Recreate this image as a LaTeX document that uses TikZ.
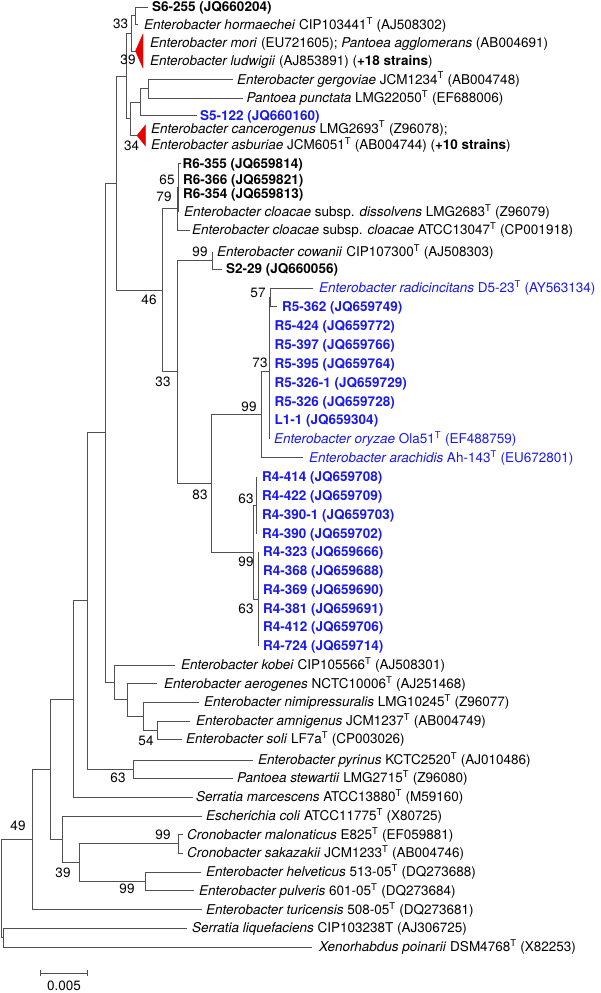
\documentclass[tikz,border=0pt]{standalone}
\usepackage{fontspec}
\setmainfont{TeX Gyre Heros}
\definecolor{myblue}{RGB}{25,25,235}
\definecolor{brc}{RGB}{80,80,80}
\definecolor{trired}{RGB}{230,0,0}
\newcommand{\fsz}{\fontsize{13.5pt}{15pt}\selectfont}
\newcommand{\Ts}{\textsuperscript{T}}
\newcommand{\tleaf}[7]{%
  \coordinate (e#1) at (#3,#4);
  \node[lab,#6] (t#1) at (#5,#4) {#7};
  \draw[br] (#2) |- (e#1);
}
\tikzset{
  br/.style={draw=brc, line width=0.9pt},
  lab/.style={anchor=west, inner sep=0pt, text height=9.6pt, text depth=0pt, font=\fsz},
  bl/.style={text=myblue},
  bk/.style={text=black},
  bs/.style={inner sep=0pt, font=\fsz},
  tri/.style={fill=trired, draw=trired, line width=0.4pt},
}
\begin{document}
\begin{tikzpicture}[x=1pt,y=-1pt]
\useasboundingbox (0,0) rectangle (600,993);
% internal nodes
\coordinate (root) at (1.5,888.4);
\coordinate (r2) at (3.5,937.5);
\coordinate (n49) at (32,839.25);
\coordinate (n50) at (50,769);
\coordinate (n73) at (73,699);
\coordinate (n87) at (87,600.9);
\coordinate (n105) at (105,432.8);
\coordinate (n116) at (116,183.2);
\coordinate (n126) at (126.7,76.1);
\coordinate (n131) at (131.7,33.4);
\coordinate (n33) at (135.7,15.75);
\coordinate (a39) at (135.5,51);
\coordinate (a39t) at (143,34);
\coordinate (a39b) at (143,68);
\coordinate (n130) at (130,118.8);
\coordinate (ngp) at (140,102.2);
\coordinate (ngerg) at (148,88.6);
\coordinate (a34) at (137,135.5);
\coordinate (a34t) at (145.5,125);
\coordinate (a34b) at (145.5,146);
\coordinate (n162) at (162,290.3);
\coordinate (n177a) at (177,208.8);
\coordinate (n65) at (178.5,187.15);
\coordinate (n177b) at (177,371.8);
\coordinate (n212) at (212.5,260.2);
\coordinate (n211) at (211,483.3);
\coordinate (n261) at (261,414.6);
\coordinate (n269) at (269,371.7);
\coordinate (n271) at (270.5,297.3);
\coordinate (n253) at (253,552.2);
\coordinate (n256) at (256.5,505.4);
\coordinate (n258) at (258,599);
\coordinate (n114) at (114,682.4);
\coordinate (n127) at (127,699.75);
\coordinate (n143) at (143,716);
\coordinate (n157) at (157,730);
\coordinate (n133) at (133,769);
\coordinate (nec) at (62,839.25);
\coordinate (n79) at (79,862.5);
\coordinate (ncr) at (178,843.75);
\coordinate (nhv) at (145,881.25);

% internal connectors
\draw[br] (root) |- (n49);
\draw[br] (root) |- (r2);
\draw[br] (n49) |- (n50);
\draw[br] (n50) |- (n73);
\draw[br] (n50) |- (nec);
\draw[br] (n73) |- (n87);
\draw[br] (n87) |- (n105);
\draw[br] (n87) |- (n133);
\draw[br] (n105) |- (n116);
\draw[br] (n105) |- (n114);
\draw[br] (n116) |- (n126);
\draw[br] (n116) |- (n162);
\draw[br] (n126) |- (n131);
\draw[br] (n126) |- (n130);
\draw[br] (n131) |- (n33);
\draw[br] (n131) |- (a39);
\draw[br] (n130) |- (ngp);
\draw[br] (n130) |- (a34);
\draw[br] (ngp) |- (ngerg);
\draw[br] (n162) |- (n177a);
\draw[br] (n162) |- (n177b);
\draw[br] (n177a) |- (n65);
\draw[br] (n177b) |- (n212);
\draw[br] (n177b) |- (n211);
\draw[br] (n211) |- (n261);
\draw[br] (n211) |- (n253);
\draw[br] (n261) |- (n269);
\draw[br] (n269) |- (n271);
\draw[br] (n253) |- (n256);
\draw[br] (n253) |- (n258);
\draw[br] (n114) |- (n127);
\draw[br] (n127) |- (n143);
\draw[br] (n143) |- (n157);
\draw[br] (nec) |- (n79);
\draw[br] (n79) |- (ncr);
\draw[br] (n79) |- (nhv);

% collapsed clades
\draw[tri] (a39) -- (a39t) -- (a39b) -- cycle;
\draw[tri] (a34) -- (a34t) -- (a34b) -- cycle;

% leaves
\tleaf{1}{n33}{148}{7}{152}{bk}{\textbf{S6-255 (JQ660204)}}
\tleaf{2}{n33}{138}{24.5}{144}{bk}{\textit{Enterobacter hormaechei} CIP103441\Ts{} (AJ508302)}
\node[lab] (t3) at (150,42.7) {\textit{Enterobacter mori} (EU721605); \textit{Pantoea agglomerans} (AB004691)};
\node[lab] (t4) at (150,61) {\textit{Enterobacter ludwigii} (AJ853891) (\textbf{+18 strains})};
\tleaf{5}{ngerg}{233}{79.3}{237}{bk}{\textit{Enterobacter gergoviae} JCM1234\Ts{} (AB004748)}
\tleaf{6}{ngerg}{243}{98}{246.5}{bk}{\textit{Pantoea punctata} LMG22050\Ts{} (EF688006)}
\tleaf{7}{ngp}{197}{115.2}{200}{bl}{\textbf{S5-122 (JQ660160)}}
\node[lab] (t8) at (151,128.3) {\textit{Enterobacter cancerogenus} LMG2693\Ts{} (Z96078);};
\node[lab] (t9) at (151,145) {\textit{Enterobacter asburiae} JCM6051\Ts{} (AB004744) (\textbf{+10 strains})};
\tleaf{10}{n65}{181}{163.3}{182.5}{bk}{\textbf{R6-355 (JQ659814)}}
\tleaf{11}{n65}{178.5}{179.3}{183}{bk}{\textbf{R6-366 (JQ659821)}}
\tleaf{12}{n65}{178.5}{194}{183}{bk}{\textbf{R6-354 (JQ659813)}}
\tleaf{13}{n65}{178.5}{212}{184}{bk}{\textit{Enterobacter cloacae} subsp. \textit{dissolvens} LMG2683\Ts{} (Z96079)}
\tleaf{14}{n177a}{190}{230}{192}{bk}{\textit{Enterobacter cloacae} subsp. \textit{cloacae} ATCC13047\Ts{} (CP001918)}
\tleaf{15}{n212}{212.5}{251.5}{217}{bk}{\textit{Enterobacter cowanii} CIP107300\Ts{} (AJ508303)}
\tleaf{16}{n212}{222}{269}{226}{bk}{\textbf{S2-29 (JQ660056)}}
\tleaf{17}{n271}{313}{288}{319}{bl}{\textit{Enterobacter radicincitans} D5-23\Ts{} (AY563134)}
\tleaf{18}{n271}{277}{306.7}{282}{bl}{\textbf{R5-362 (JQ659749)}}
\tleaf{19}{n269}{269}{325.5}{274.5}{bl}{\textbf{R5-424 (JQ659772)}}
\tleaf{20}{n269}{269}{344.5}{274.5}{bl}{\textbf{R5-397 (JQ659766)}}
\tleaf{21}{n269}{269}{363.3}{274.5}{bl}{\textbf{R5-395 (JQ659764)}}
\tleaf{22}{n269}{269}{382.5}{274.5}{bl}{\textbf{R5-326-1 (JQ659729)}}
\tleaf{23}{n269}{269}{401.5}{274.5}{bl}{\textbf{R5-326 (JQ659728)}}
\tleaf{24}{n269}{269}{420}{274.5}{bl}{\textbf{L1-1 (JQ659304)}}
\tleaf{25}{n269}{269}{439}{274}{bl}{\textit{Enterobacter oryzae} Ola51\Ts{} (EF488759)}
\tleaf{26}{n261}{303}{457.5}{309}{bl}{\textit{Enterobacter arachidis} Ah-143\Ts{} (EU672801)}
\tleaf{27}{n256}{256.5}{477}{262}{bl}{\textbf{R4-414 (JQ659708)}}
\tleaf{28}{n256}{256.5}{496}{262}{bl}{\textbf{R4-422 (JQ659709)}}
\tleaf{29}{n256}{256.5}{515}{262}{bl}{\textbf{R4-390-1 (JQ659703)}}
\tleaf{30}{n256}{256.5}{533.5}{262}{bl}{\textbf{R4-390 (JQ659702)}}
\tleaf{31}{n258}{258}{552}{263}{bl}{\textbf{R4-323 (JQ659666)}}
\tleaf{32}{n258}{258}{571}{263}{bl}{\textbf{R4-368 (JQ659688)}}
\tleaf{33}{n258}{258}{589.5}{263}{bl}{\textbf{R4-369 (JQ659690)}}
\tleaf{34}{n258}{258}{608.5}{263}{bl}{\textbf{R4-381 (JQ659691)}}
\tleaf{35}{n258}{258}{627}{263}{bl}{\textbf{R4-412 (JQ659706)}}
\tleaf{36}{n258}{258}{646}{263}{bl}{\textbf{R4-724 (JQ659714)}}
\tleaf{37}{n114}{175}{665}{181}{bk}{\textit{Enterobacter kobei} CIP105566\Ts{} (AJ508301)}
\tleaf{38}{n127}{157}{683.5}{164}{bk}{\textit{Enterobacter aerogenes} NCTC10006\Ts{} (AJ251468)}
\tleaf{39}{n143}{199}{702}{204}{bk}{\textit{Enterobacter nimipressuralis} LMG10245\Ts{} (Z96077)}
\tleaf{40}{n157}{190}{721}{196}{bk}{\textit{Enterobacter amnigenus} JCM1237\Ts{} (AB004749)}
\tleaf{41}{n157}{182}{739}{186}{bk}{\textit{Enterobacter soli} LF7a\Ts{} (CP003026)}
\tleaf{42}{n133}{253}{760}{258}{bk}{\textit{Enterobacter pyrinus} KCTC2520\Ts{} (AJ010486)}
\tleaf{43}{n133}{233}{778}{237}{bk}{\textit{Pantoea stewartii} LMG2715\Ts{} (Z96080)}
\tleaf{44}{n73}{193}{797}{196}{bk}{\textit{Serratia marcescens} ATCC13880\Ts{} (M59160)}
\tleaf{45}{nec}{202}{816}{206}{bk}{\textit{Escherichia coli} ATCC11775\Ts{} (X80725)}
\tleaf{46}{ncr}{183}{834.5}{187}{bk}{\textit{Cronobacter malonaticus} E825\Ts{} (EF059881)}
\tleaf{47}{ncr}{183}{853}{187}{bk}{\textit{Cronobacter sakazakii} JCM1233\Ts{} (AB004746)}
\tleaf{48}{nhv}{201}{872}{206}{bk}{\textit{Enterobacter helveticus} 513-05\Ts{} (DQ273688)}
\tleaf{49}{nhv}{194}{890.5}{199}{bk}{\textit{Enterobacter pulveris} 601-05\Ts{} (DQ273684)}
\tleaf{50}{n49}{202}{909.5}{206}{bk}{\textit{Enterobacter turicensis} 508-05\Ts{} (DQ273681)}
\tleaf{51}{r2}{187}{928}{192}{bk}{\textit{Serratia liquefaciens} CIP103238T (AJ306725)}
\tleaf{52}{r2}{312}{947}{319}{bk}{\textit{Xenorhabdus poinarii} DSM4768\Ts{} (X82253)}

% bootstrap values
\node[bs] (b1) at (120.7,24) {33};
\node[bs] (b2) at (128,60) {39};
\node[bs] (b3) at (131.7,146) {34};
\node[bs] (b4) at (167,180) {65};
\node[bs] (b5) at (164,197) {79};
\node[bs] (b6) at (149,300) {46};
\node[bs] (b7) at (200,252) {99};
\node[bs] (b8) at (258,293) {57};
\node[bs] (b9) at (260,363) {73};
\node[bs] (b10) at (249,407) {99};
\node[bs] (b11) at (163,382) {33};
\node[bs] (b12) at (200,495) {83};
\node[bs] (b13) at (246,499) {63};
\node[bs] (b14) at (246,562) {99};
\node[bs] (b15) at (246,609) {63};
\node[bs] (b16) at (146,741) {54};
\node[bs] (b17) at (118,778) {63};
\node[bs] (b18) at (18,826) {49};
\node[bs] (b19) at (163,835) {99};
\node[bs] (b20) at (63,873) {39};
\node[bs] (b21) at (127,889) {99};

% scale bar
\coordinate (sbl) at (40,973);
\coordinate (sbr) at (87,973);
\draw[br] (sbl) -- (sbr);
\draw[br] ([yshift=3pt]sbl) -- ([yshift=-3pt]sbl);
\draw[br] ([yshift=3pt]sbr) -- ([yshift=-3pt]sbr);
\node[bs] (sbt) at (64,986) {0.005};
\end{tikzpicture}
\end{document}
